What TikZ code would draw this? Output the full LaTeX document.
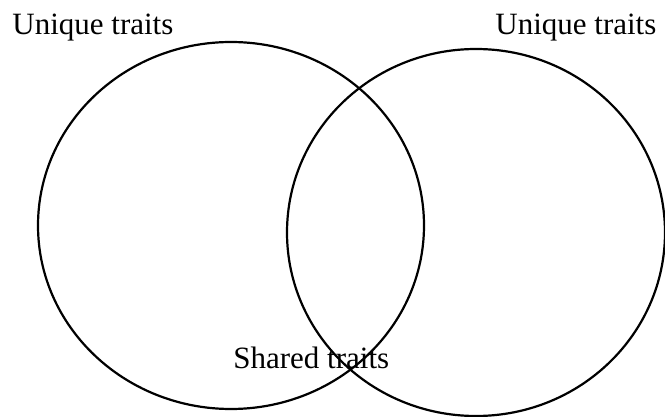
\documentclass[tikz,border=0pt]{standalone}
\usepackage{fontspec}
\setmainfont{Liberation Serif}
\usetikzlibrary{shapes.geometric}

\begin{document}
\begin{tikzpicture}[x=0.5pt, y=-0.5pt, font=\fontsize{15.5}{18}\selectfont,
  set/.style={draw, ellipse, line width=1.1pt, inner sep=0pt},
  lab/.style={anchor=base west, inner sep=0pt}]
\useasboundingbox (0,0) rectangle (665,417);
\node[set, minimum width=193pt, minimum height=183.5pt] (setA) at (231,225.5) {};
\node[set, minimum width=189pt, minimum height=183.5pt] (setB) at (476,232.5) {};
\node[lab] (uniqA) at (12,35) {Unique traits};
\node[lab] (uniqB) at (495,35) {Unique traits};
\node[lab] (shared) at (233,368) {Shared traits};
\end{tikzpicture}
\end{document}
